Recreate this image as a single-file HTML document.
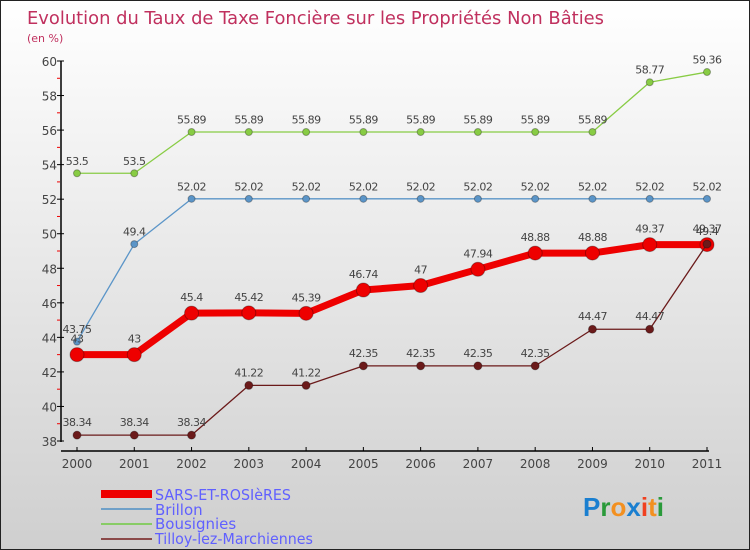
<!DOCTYPE html>
<html><head><meta charset="utf-8"><style>
body{margin:0}
#c{width:748px;height:548px;border:1px solid #222;background:linear-gradient(#fff,#cfcfcf);position:relative;font-family:"DejaVu Sans","Liberation Sans",sans-serif;overflow:hidden}
</style></head><body>
<div id="c">
<svg id="s" width="748" height="548" xmlns="http://www.w3.org/2000/svg">
<text x="26" y="23" font-size="18" fill="#c0305e" textLength="577" lengthAdjust="spacingAndGlyphs">Evolution du Taux de Taxe Foncière sur les Propriétés Non Bâties</text>
<text x="26" y="41" font-size="11" fill="#c0305e">(en %)</text>
<g id="axes"></g><g id="series"></g>
<g font-size="15" fill="#6060ff">
<rect x="100" y="489" width="51" height="8" fill="#e00"/>
<text x="154" y="499" textLength="136" lengthAdjust="spacingAndGlyphs">SARS-ET-ROSIèRES</text>
<rect x="100" y="507" width="51" height="2" fill="#6fa0c8"/>
<text x="154" y="514">Brillon</text>
<rect x="100" y="522" width="51" height="2" fill="#88cc66"/>
<text x="154" y="528">Bousignies</text>
<rect x="100" y="537" width="51" height="2" fill="#8b4a4a"/>
<text x="154" y="543" textLength="158" lengthAdjust="spacingAndGlyphs">Tilloy-lez-Marchiennes</text>
</g>
<text x="582" y="515" font-size="26" font-weight="bold" font-family="Liberation Sans, sans-serif"><tspan fill="#1a7fd0">P</tspan><tspan fill="#2a9a3a">r</tspan><tspan fill="#f39020">o</tspan><tspan fill="#1a7fd0">x</tspan><tspan fill="#f04020">i</tspan><tspan fill="#f39020">t</tspan><tspan fill="#2a9a3a">i</tspan></text>
</svg></div>
<script>
const years=[2000,2001,2002,2003,2004,2005,2006,2007,2008,2009,2010,2011];
const sars=[43,43,45.4,45.42,45.39,46.74,47,47.94,48.88,48.88,49.37,49.37];
const brillon=[43.75,49.4,52.02,52.02,52.02,52.02,52.02,52.02,52.02,52.02,52.02,52.02];
const bousignies=[53.5,53.5,55.89,55.89,55.89,55.89,55.89,55.89,55.89,55.89,58.77,59.36];
const tilloy=[38.34,38.34,38.34,41.22,41.22,42.35,42.35,42.35,42.35,44.47,44.47,49.4];
const yTicks=[38,40,42,44,46,48,50,52,54,56,58,60];
const NS="http://www.w3.org/2000/svg";
const X=i=>76+i*(630/11), Y=v=>440-(v-38)*(380/22);
function mk(t,a,p){const e=document.createElementNS(NS,t);for(const k in a)e.setAttribute(k,a[k]);p.appendChild(e);return e;}
const ax=document.getElementById('axes');
let l=mk('line',{x1:60,y1:60,x2:60,y2:441,stroke:'#000','stroke-width':1.5},ax);


l=mk('line',{x1:60,y1:450,x2:708,y2:450,stroke:'#000','stroke-width':1.5},ax);


for(let v=38;v<=60;v++){mk('line',{x1:56,x2:v%2?59:63,y1:Y(v),y2:Y(v),stroke:v%2?'#e00':'#000'},ax);}
yTicks.forEach(v=>{const t=mk('text',{x:56,y:Y(v)+5,'text-anchor':'end','font-size':12,fill:'#444'},ax);t.textContent=v;

});
years.forEach((y,i)=>{mk('line',{x1:X(i),x2:X(i),y1:446,y2:450,stroke:'#000'},ax);
const t=mk('text',{x:X(i),y:467,'text-anchor':'middle','font-size':12,fill:'#444'},ax);t.textContent=y;

});
const sg=document.getElementById('series');
function draw(name,vals,col,w,r){
const g=mk('g',{},sg);


mk('polyline',{points:vals.map((v,i)=>X(i)+','+Y(v)).join(' '),fill:'none',stroke:col,'stroke-width':w,'stroke-linejoin':'round'},g);
vals.forEach((v,i)=>{const c=mk('circle',{cx:X(i),cy:Y(v),r:r,fill:col,stroke:'rgba(0,0,0,0.3)'},g);


const t=mk('text',{x:X(i),y:Y(v)-(r+5),'text-anchor':'middle','font-size':11,fill:'#444','letter-spacing':'-0.5'},g);t.textContent=v;

});}
draw('bousignies',bousignies,'#88cc44',1.3,3.5);
draw('brillon',brillon,'#5b95c8',1.3,3.5);
draw('sars',sars,'#e00',7,7);
draw('tilloy',tilloy,'#6b1a1a',1.3,4);
</script></body></html>
